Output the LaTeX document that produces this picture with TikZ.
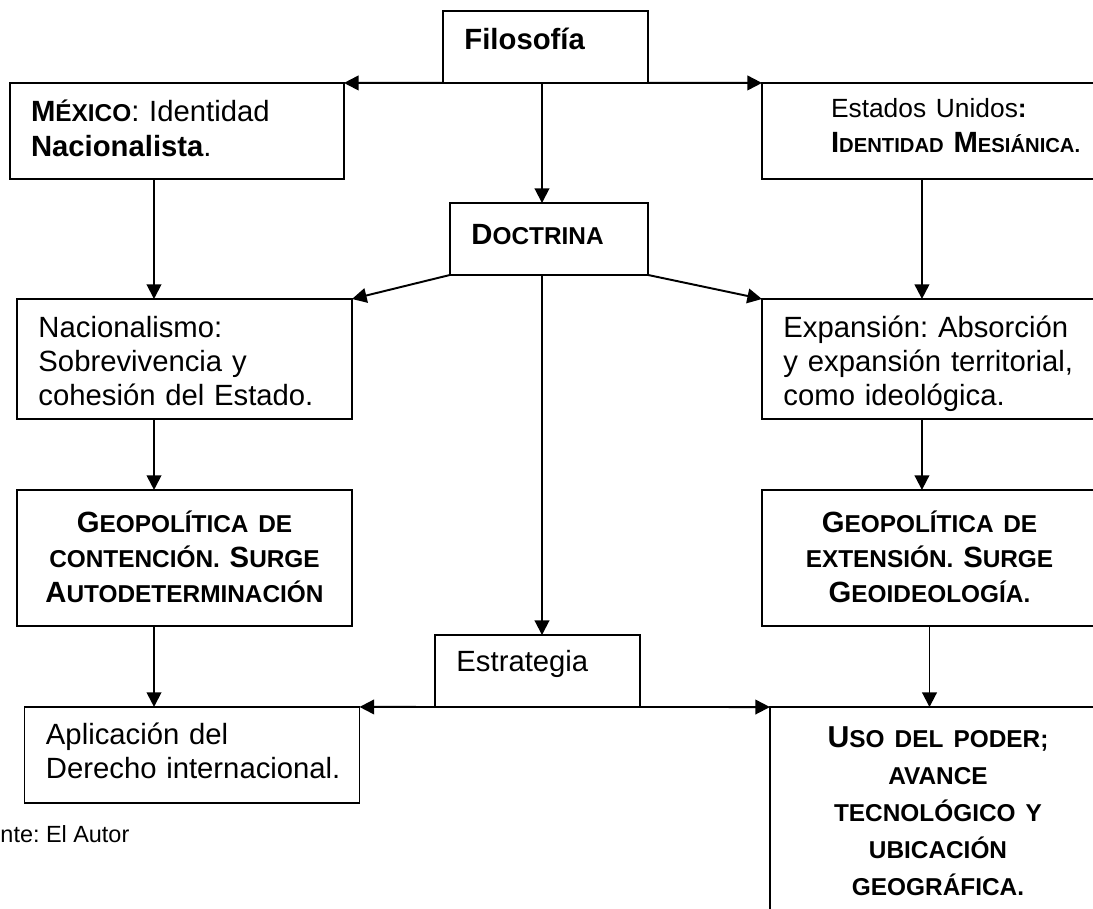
\documentclass[tikz,border=0pt]{standalone}
\usepackage{fontspec}
\setmainfont{Liberation Sans}
\usepackage{tikz}
\usetikzlibrary{arrows.meta}
\newcommand{\scsize}{10}
\newcommand{\scap}[1]{{\fontsize{\scsize}{14}\selectfont #1}}
\tikzset{box/.style={draw, line width=0.8pt, outer sep=0pt, inner xsep=8.8pt, inner ysep=2pt, text height=9pt},
  arr/.style={line width=0.8pt, -{Triangle[length=6pt,width=6pt]}}}

\begin{document}
\begin{tikzpicture}[x=0.41pt, y=-0.41pt, font=\fontsize{12}{14}\selectfont,
    execute at begin node={\frenchspacing\hyphenpenalty=10000\exhyphenpenalty=10000}]
            \useasboundingbox (0,0) rectangle (1093,909);
            \clip (0,0) rectangle (1093,909);
            % row 1
            \node[box, minimum width=84.05pt, minimum height=29.5pt, text width=66.45pt, align=left, text depth=6.54pt] (filo) at (545.5,47) {\textbf{Filosofía}};
            % row 2
            \node[box, minimum width=137.1pt, minimum height=39.4pt, text width=119.5pt, align=left, text depth=16.4pt] (mex) at (176.75,131) {\textbf{M\scap{ÉXICO}}: Identidad\\ \textbf{Nacionalista}.};
            \node[box, minimum width=137.35pt, minimum height=39.4pt, text width=119.75pt, align=left, text depth=19.7pt] (eeuu) at (929.5,131) {\hspace*{19.5pt}{\fontsize{10.8}{14}\selectfont Estados Unidos\textbf{:}}\\ \hspace*{19.5pt}\renewcommand{\scsize}{8.3}\mbox{\textbf{I\scap{DENTIDAD} M\scap{ESIÁNICA.}}}};
            % row 3
            \node[box, minimum width=81.2pt, minimum height=29.5pt, text width=63.6pt, align=left, text depth=4.1pt] (doc) at (549,239) {\textbf{D\scap{OCTRINA}}};
            % row 4
            \node[box, minimum width=137.35pt, minimum height=49.2pt, text width=119.75pt, align=left, text depth=27pt] (nac) at (184.5,359) {Nacionalismo:\\ Sobrevivencia y\\ cohesión del Estado.};
            \node[box, minimum width=137.35pt, minimum height=49.2pt, text width=119.75pt, align=left, text depth=27pt] (exp) at (929.5,359) {Expansión: Absorción\\ y expansión territorial,\\ como ideológica.};
            % row 5
            \node[box, minimum width=137.35pt, minimum height=55.8pt, text width=119.75pt, align=center, text depth=30.3pt, font=\fontsize{12}{14.5}\selectfont] (geoL) at (184.5,558) {\textbf{G\scap{EOPOLÍTICA DE}}\\ \textbf{\scap{CONTENCIÓN.} S\scap{URGE}}\\ \textbf{A\scap{UTODETERMINACIÓN}}};
            \node[box, minimum width=137.35pt, minimum height=55.8pt, text width=119.75pt, align=center, text depth=30.3pt, font=\fontsize{12}{14.5}\selectfont] (geoR) at (929.5,558) {\textbf{G\scap{EOPOLÍTICA DE}}\\ \textbf{\scap{EXTENSIÓN.} S\scap{URGE}}\\ \textbf{G\scap{EOIDEOLOGÍA.}}};
            % row 6
            \node[box, minimum width=84.05pt, minimum height=29.5pt, text width=66.45pt, align=left, text depth=8.2pt] (estr) at (537.5,671) {Estrategia};
            % row 7
            \node[box, minimum width=137.35pt, minimum height=39.4pt, text width=119.75pt, align=left, text depth=18pt] (apl) at (192,755) {Aplicación del\\ \mbox{Derecho internacional.}};
            \node[box, minimum width=137.8pt, minimum height=103.7pt, text width=120.2pt, align=center, text depth=79.9pt, font=\fontsize{12.4}{15.2}\selectfont] (uso) at (938,833.5) {\textbf{U\scap{SO DEL PODER;}}\\ \textbf{\scap{AVANCE}}\\ \textbf{\scap{TECNOLÓGICO Y}}\\ \textbf{\scap{UBICACIÓN}}\\ \textbf{\scap{GEOGRÁFICA.}}};
            \node[anchor=base west, inner sep=0pt, font=\fontsize{9.6}{12}\selectfont] (fuente) at (0,842) {nte: El Autor};
            % arrows
            \draw[arr] (filo.south west) -- (mex.north east);
            \draw[arr] (filo.south east) -- (eeuu.north west);
            \draw[arr] ([xshift=-1.44pt]filo.south) -- ([xshift=-1.44pt]filo.south |- doc.north);
            \draw[arr] (doc.south west) -- (nac.north east);
            \draw[arr] (doc.south east) -- (exp.north west);
            \draw[arr] ([xshift=-1.44pt]filo.south |- doc.south) -- ([xshift=-1.44pt]filo.south |- estr.north);
            \draw[arr] ([xshift=-9.33pt]mex.south) -- ([xshift=-9.33pt]mex.south |- nac.north);
            \draw[arr] ([xshift=-12.5pt]nac.south) -- ([xshift=-12.5pt]nac.south |- geoL.north);
            \draw[arr] ([xshift=-12.5pt]geoL.south) -- ([xshift=-12.5pt]geoL.south |- apl.north);
            \draw[arr] ([xshift=-3.1pt]eeuu.south) -- ([xshift=-3.1pt]eeuu.south |- exp.north);
            \draw[arr] ([xshift=-3.1pt]exp.south) -- ([xshift=-3.1pt]exp.south |- geoR.north);
            \draw[arr] (geoR.south) -- (geoR.south |- uso.north);
            \draw[arr] (estr.south west) -- (apl.north east);
            \draw[arr] (estr.south east) -- (uso.north west);
        \end{tikzpicture}
\end{document}
